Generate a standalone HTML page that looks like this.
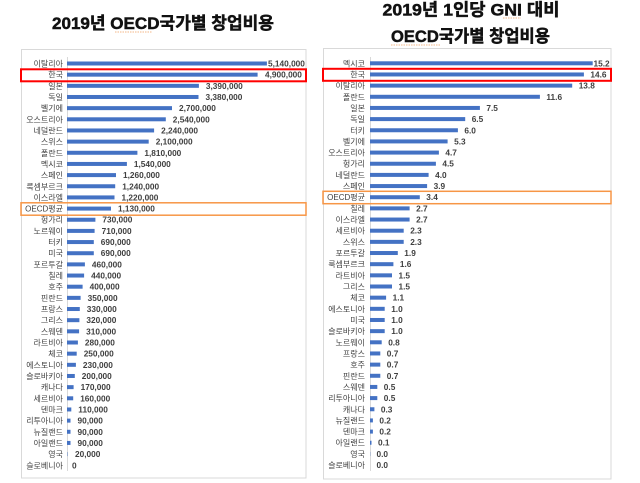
<!DOCTYPE html>
<html><head><meta charset="utf-8">
<style>
html,body{margin:0;padding:0;background:#fff;}
svg{display:block;}
.t{font-family:"Liberation Sans","Noto Sans CJK KR",sans-serif;font-weight:bold;fill:#111;stroke:#111;stroke-width:0.5;}
.l{font-family:"Liberation Sans","Noto Sans CJK KR",sans-serif;font-size:8px;fill:#404040;text-anchor:end;}
.v{font-family:"Liberation Sans",sans-serif;font-size:8.3px;font-weight:bold;fill:#404040;}
.b{fill:#4472C4;}
</style></head>
<body>
<svg width="640" height="483" viewBox="0 0 640 483" xmlns="http://www.w3.org/2000/svg">
<rect x="0" y="0" width="640" height="483" fill="#fff"/>
<!-- Titles -->
<text class="t" x="52" y="29" font-size="17" textLength="222" lengthAdjust="spacingAndGlyphs">2019년 OECD국가별 창업비용</text>
<line x1="115" y1="32" x2="152" y2="32" stroke="#f0a060" stroke-width="0.8" stroke-dasharray="1.5,1"/>
<text class="t" x="382.5" y="15.5" font-size="17" textLength="177" lengthAdjust="spacingAndGlyphs">2019년 1인당 GNI 대비</text>
<line x1="503" y1="18" x2="521" y2="18" stroke="#f0a060" stroke-width="0.8" stroke-dasharray="1.5,1"/>
<text class="t" x="391" y="42" font-size="17" textLength="159" lengthAdjust="spacingAndGlyphs">OECD국가별 창업비용</text>
<line x1="391" y1="45" x2="440" y2="45" stroke="#f0a060" stroke-width="0.8" stroke-dasharray="1.5,1"/>

<!-- Left chart frame -->
<rect x="21.5" y="49.5" width="284.5" height="428.5" fill="none" stroke="#d9d9d9" stroke-width="1"/>
<line x1="67.5" y1="57" x2="67.5" y2="471" stroke="#d9d9d9" stroke-width="1"/>

<g transform="translate(0,63.5)"><text class="l" x="63" y="3">이탈리아</text><rect class="b" x="67" y="-2" width="199.9" height="4"/><text class="v" x="268" y="3">5,140,000</text></g>
<g transform="translate(0,74.66)"><text class="l" x="63" y="3">한국</text><rect class="b" x="67" y="-2" width="190.6" height="4"/><text class="v" x="265" y="3">4,900,000</text></g>
<g transform="translate(0,85.82)"><text class="l" x="63" y="3">일본</text><rect class="b" x="67" y="-2" width="131.9" height="4"/><text class="v" x="205.9" y="3">3,390,000</text></g>
<g transform="translate(0,96.98)"><text class="l" x="63" y="3">독일</text><rect class="b" x="67" y="-2" width="131.5" height="4"/><text class="v" x="205.5" y="3">3,380,000</text></g>
<g transform="translate(0,108.14)"><text class="l" x="63" y="3">벨기에</text><rect class="b" x="67" y="-2" width="105" height="4"/><text class="v" x="179" y="3">2,700,000</text></g>
<g transform="translate(0,119.3)"><text class="l" x="63" y="3">오스트리아</text><rect class="b" x="67" y="-2" width="98.8" height="4"/><text class="v" x="172.8" y="3">2,540,000</text></g>
<g transform="translate(0,130.46)"><text class="l" x="63" y="3">네덜란드</text><rect class="b" x="67" y="-2" width="87.1" height="4"/><text class="v" x="161.1" y="3">2,240,000</text></g>
<g transform="translate(0,141.62)"><text class="l" x="63" y="3">스위스</text><rect class="b" x="67" y="-2" width="81.7" height="4"/><text class="v" x="155.7" y="3">2,100,000</text></g>
<g transform="translate(0,152.78)"><text class="l" x="63" y="3">폴란드</text><rect class="b" x="67" y="-2" width="70.4" height="4"/><text class="v" x="144.4" y="3">1,810,000</text></g>
<g transform="translate(0,163.94)"><text class="l" x="63" y="3">멕시코</text><rect class="b" x="67" y="-2" width="59.9" height="4"/><text class="v" x="133.9" y="3">1,540,000</text></g>
<g transform="translate(0,175.1)"><text class="l" x="63" y="3">스페인</text><rect class="b" x="67" y="-2" width="49" height="4"/><text class="v" x="123" y="3">1,260,000</text></g>
<g transform="translate(0,186.26)"><text class="l" x="63" y="3">룩셈부르크</text><rect class="b" x="67" y="-2" width="48.2" height="4"/><text class="v" x="122.2" y="3">1,240,000</text></g>
<g transform="translate(0,197.42)"><text class="l" x="63" y="3">이스라엘</text><rect class="b" x="67" y="-2" width="47.5" height="4"/><text class="v" x="121.5" y="3">1,220,000</text></g>
<g transform="translate(0,208.58)"><text class="l" x="63" y="3">OECD평균</text><rect class="b" x="67" y="-2" width="44" height="4"/><text class="v" x="118" y="3">1,130,000</text></g>
<g transform="translate(0,219.74)"><text class="l" x="63" y="3">헝가리</text><rect class="b" x="67" y="-2" width="28.4" height="4"/><text class="v" x="102.4" y="3">730,000</text></g>
<g transform="translate(0,230.9)"><text class="l" x="63" y="3">노르웨이</text><rect class="b" x="67" y="-2" width="27.6" height="4"/><text class="v" x="101.6" y="3">710,000</text></g>
<g transform="translate(0,242.06)"><text class="l" x="63" y="3">터키</text><rect class="b" x="67" y="-2" width="26.8" height="4"/><text class="v" x="100.8" y="3">690,000</text></g>
<g transform="translate(0,253.22)"><text class="l" x="63" y="3">미국</text><rect class="b" x="67" y="-2" width="26.8" height="4"/><text class="v" x="100.8" y="3">690,000</text></g>
<g transform="translate(0,264.38)"><text class="l" x="63" y="3">포르투갈</text><rect class="b" x="67" y="-2" width="17.9" height="4"/><text class="v" x="91.9" y="3">460,000</text></g>
<g transform="translate(0,275.54)"><text class="l" x="63" y="3">칠레</text><rect class="b" x="67" y="-2" width="17.1" height="4"/><text class="v" x="91.1" y="3">440,000</text></g>
<g transform="translate(0,286.7)"><text class="l" x="63" y="3">호주</text><rect class="b" x="67" y="-2" width="15.6" height="4"/><text class="v" x="89.6" y="3">400,000</text></g>
<g transform="translate(0,297.86)"><text class="l" x="63" y="3">핀란드</text><rect class="b" x="67" y="-2" width="13.6" height="4"/><text class="v" x="87.6" y="3">350,000</text></g>
<g transform="translate(0,309.02)"><text class="l" x="63" y="3">프랑스</text><rect class="b" x="67" y="-2" width="12.8" height="4"/><text class="v" x="86.8" y="3">330,000</text></g>
<g transform="translate(0,320.18)"><text class="l" x="63" y="3">그리스</text><rect class="b" x="67" y="-2" width="12.4" height="4"/><text class="v" x="86.4" y="3">320,000</text></g>
<g transform="translate(0,331.34)"><text class="l" x="63" y="3">스웨덴</text><rect class="b" x="67" y="-2" width="12.1" height="4"/><text class="v" x="86.1" y="3">310,000</text></g>
<g transform="translate(0,342.5)"><text class="l" x="63" y="3">라트비아</text><rect class="b" x="67" y="-2" width="10.9" height="4"/><text class="v" x="84.9" y="3">280,000</text></g>
<g transform="translate(0,353.66)"><text class="l" x="63" y="3">체코</text><rect class="b" x="67" y="-2" width="9.7" height="4"/><text class="v" x="83.7" y="3">250,000</text></g>
<g transform="translate(0,364.82)"><text class="l" x="63" y="3">에스토니아</text><rect class="b" x="67" y="-2" width="8.9" height="4"/><text class="v" x="82.9" y="3">230,000</text></g>
<g transform="translate(0,375.98)"><text class="l" x="63" y="3">슬로바키아</text><rect class="b" x="67" y="-2" width="7.8" height="4"/><text class="v" x="81.8" y="3">200,000</text></g>
<g transform="translate(0,387.14)"><text class="l" x="63" y="3">캐나다</text><rect class="b" x="67" y="-2" width="6.6" height="4"/><text class="v" x="80.6" y="3">170,000</text></g>
<g transform="translate(0,398.3)"><text class="l" x="63" y="3">세르비아</text><rect class="b" x="67" y="-2" width="6.2" height="4"/><text class="v" x="80.2" y="3">160,000</text></g>
<g transform="translate(0,409.46)"><text class="l" x="63" y="3">덴마크</text><rect class="b" x="67" y="-2" width="4.3" height="4"/><text class="v" x="78.3" y="3">110,000</text></g>
<g transform="translate(0,420.62)"><text class="l" x="63" y="3">리투아니아</text><rect class="b" x="67" y="-2" width="3.5" height="4"/><text class="v" x="77.5" y="3">90,000</text></g>
<g transform="translate(0,431.78)"><text class="l" x="63" y="3">뉴질랜드</text><rect class="b" x="67" y="-2" width="3.5" height="4"/><text class="v" x="77.5" y="3">90,000</text></g>
<g transform="translate(0,442.94)"><text class="l" x="63" y="3">아일랜드</text><rect class="b" x="67" y="-2" width="3.5" height="4"/><text class="v" x="77.5" y="3">90,000</text></g>
<g transform="translate(0,454.1)"><text class="l" x="63" y="3">영국</text><rect class="b" x="67" y="-2" width="0.8" height="4" opacity="0.5"/><text class="v" x="75" y="3">20,000</text></g>
<g transform="translate(0,465.26)"><text class="l" x="63" y="3">슬로베니아</text><text class="v" x="72" y="3">0</text></g>

<rect x="21" y="69.3" width="285" height="12" fill="none" stroke="#ff0000" stroke-width="2"/>
<rect x="21" y="202.8" width="285" height="12.4" fill="none" stroke="#F79646" stroke-width="1.5"/>

<!-- Right chart frame -->
<rect x="323.5" y="48.5" width="287.5" height="430.5" fill="none" stroke="#d9d9d9" stroke-width="1"/>
<line x1="370.5" y1="57" x2="370.5" y2="471" stroke="#d9d9d9" stroke-width="1"/>

<g transform="translate(0,63.3)"><text class="l" x="365" y="3">멕시코</text><rect class="b" x="370" y="-2" width="222.7" height="4"/><text class="v" x="593.5" y="3">15.2</text></g>
<g transform="translate(0,74.46)"><text class="l" x="365" y="3">한국</text><rect class="b" x="370" y="-2" width="213.9" height="4"/><text class="v" x="590.4" y="3">14.6</text></g>
<g transform="translate(0,85.62)"><text class="l" x="365" y="3">이탈리아</text><rect class="b" x="370" y="-2" width="202.2" height="4"/><text class="v" x="578.7" y="3">13.8</text></g>
<g transform="translate(0,96.78)"><text class="l" x="365" y="3">폴란드</text><rect class="b" x="370" y="-2" width="169.9" height="4"/><text class="v" x="546.4" y="3">11.6</text></g>
<g transform="translate(0,107.94)"><text class="l" x="365" y="3">일본</text><rect class="b" x="370" y="-2" width="109.9" height="4"/><text class="v" x="486.4" y="3">7.5</text></g>
<g transform="translate(0,119.1)"><text class="l" x="365" y="3">독일</text><rect class="b" x="370" y="-2" width="95.2" height="4"/><text class="v" x="471.7" y="3">6.5</text></g>
<g transform="translate(0,130.26)"><text class="l" x="365" y="3">터키</text><rect class="b" x="370" y="-2" width="87.9" height="4"/><text class="v" x="464.4" y="3">6.0</text></g>
<g transform="translate(0,141.42)"><text class="l" x="365" y="3">벨기에</text><rect class="b" x="370" y="-2" width="77.6" height="4"/><text class="v" x="454.1" y="3">5.3</text></g>
<g transform="translate(0,152.58)"><text class="l" x="365" y="3">오스트리아</text><rect class="b" x="370" y="-2" width="68.9" height="4"/><text class="v" x="445.4" y="3">4.7</text></g>
<g transform="translate(0,163.74)"><text class="l" x="365" y="3">헝가리</text><rect class="b" x="370" y="-2" width="65.9" height="4"/><text class="v" x="442.4" y="3">4.5</text></g>
<g transform="translate(0,174.9)"><text class="l" x="365" y="3">네덜란드</text><rect class="b" x="370" y="-2" width="58.6" height="4"/><text class="v" x="435.1" y="3">4.0</text></g>
<g transform="translate(0,186.06)"><text class="l" x="365" y="3">스페인</text><rect class="b" x="370" y="-2" width="57.1" height="4"/><text class="v" x="433.6" y="3">3.9</text></g>
<g transform="translate(0,197.22)"><text class="l" x="365" y="3">OECD평균</text><rect class="b" x="370" y="-2" width="49.8" height="4"/><text class="v" x="426.3" y="3">3.4</text></g>
<g transform="translate(0,208.38)"><text class="l" x="365" y="3">칠레</text><rect class="b" x="370" y="-2" width="39.6" height="4"/><text class="v" x="416.1" y="3">2.7</text></g>
<g transform="translate(0,219.54)"><text class="l" x="365" y="3">이스라엘</text><rect class="b" x="370" y="-2" width="39.6" height="4"/><text class="v" x="416.1" y="3">2.7</text></g>
<g transform="translate(0,230.7)"><text class="l" x="365" y="3">세르비아</text><rect class="b" x="370" y="-2" width="33.7" height="4"/><text class="v" x="410.2" y="3">2.3</text></g>
<g transform="translate(0,241.86)"><text class="l" x="365" y="3">스위스</text><rect class="b" x="370" y="-2" width="33.7" height="4"/><text class="v" x="410.2" y="3">2.3</text></g>
<g transform="translate(0,253.02)"><text class="l" x="365" y="3">포르투갈</text><rect class="b" x="370" y="-2" width="27.8" height="4"/><text class="v" x="404.3" y="3">1.9</text></g>
<g transform="translate(0,264.18)"><text class="l" x="365" y="3">룩셈부르크</text><rect class="b" x="370" y="-2" width="23.4" height="4"/><text class="v" x="399.9" y="3">1.6</text></g>
<g transform="translate(0,275.34)"><text class="l" x="365" y="3">라트비아</text><rect class="b" x="370" y="-2" width="22" height="4"/><text class="v" x="398.5" y="3">1.5</text></g>
<g transform="translate(0,286.5)"><text class="l" x="365" y="3">그리스</text><rect class="b" x="370" y="-2" width="22" height="4"/><text class="v" x="398.5" y="3">1.5</text></g>
<g transform="translate(0,297.66)"><text class="l" x="365" y="3">체코</text><rect class="b" x="370" y="-2" width="16.1" height="4"/><text class="v" x="392.6" y="3">1.1</text></g>
<g transform="translate(0,308.82)"><text class="l" x="365" y="3">에스토니아</text><rect class="b" x="370" y="-2" width="14.7" height="4"/><text class="v" x="391.2" y="3">1.0</text></g>
<g transform="translate(0,319.98)"><text class="l" x="365" y="3">미국</text><rect class="b" x="370" y="-2" width="14.7" height="4"/><text class="v" x="391.2" y="3">1.0</text></g>
<g transform="translate(0,331.14)"><text class="l" x="365" y="3">슬로바키아</text><rect class="b" x="370" y="-2" width="14.7" height="4"/><text class="v" x="391.2" y="3">1.0</text></g>
<g transform="translate(0,342.3)"><text class="l" x="365" y="3">노르웨이</text><rect class="b" x="370" y="-2" width="11.7" height="4"/><text class="v" x="388.2" y="3">0.8</text></g>
<g transform="translate(0,353.46)"><text class="l" x="365" y="3">프랑스</text><rect class="b" x="370" y="-2" width="10.3" height="4"/><text class="v" x="386.8" y="3">0.7</text></g>
<g transform="translate(0,364.62)"><text class="l" x="365" y="3">호주</text><rect class="b" x="370" y="-2" width="10.3" height="4"/><text class="v" x="386.8" y="3">0.7</text></g>
<g transform="translate(0,375.78)"><text class="l" x="365" y="3">핀란드</text><rect class="b" x="370" y="-2" width="10.3" height="4"/><text class="v" x="386.8" y="3">0.7</text></g>
<g transform="translate(0,386.94)"><text class="l" x="365" y="3">스웨덴</text><rect class="b" x="370" y="-2" width="7.3" height="4"/><text class="v" x="383.8" y="3">0.5</text></g>
<g transform="translate(0,398.1)"><text class="l" x="365" y="3">리투아니아</text><rect class="b" x="370" y="-2" width="7.3" height="4"/><text class="v" x="383.8" y="3">0.5</text></g>
<g transform="translate(0,409.26)"><text class="l" x="365" y="3">캐나다</text><rect class="b" x="370" y="-2" width="4.4" height="4"/><text class="v" x="380.9" y="3">0.3</text></g>
<g transform="translate(0,420.42)"><text class="l" x="365" y="3">뉴질랜드</text><rect class="b" x="370" y="-2" width="2.9" height="4"/><text class="v" x="379.4" y="3">0.2</text></g>
<g transform="translate(0,431.58)"><text class="l" x="365" y="3">덴마크</text><rect class="b" x="370" y="-2" width="2.9" height="4"/><text class="v" x="379.4" y="3">0.2</text></g>
<g transform="translate(0,442.74)"><text class="l" x="365" y="3">아일랜드</text><rect class="b" x="370" y="-2" width="1.5" height="4"/><text class="v" x="378" y="3">0.1</text></g>
<g transform="translate(0,453.9)"><text class="l" x="365" y="3">영국</text><rect class="b" x="370" y="-2" width="0.6" height="4" opacity="0.4"/><text class="v" x="376.5" y="3">0.0</text></g>
<g transform="translate(0,465.06)"><text class="l" x="365" y="3">슬로베니아</text><text class="v" x="376.5" y="3">0.0</text></g>

<rect x="323" y="68.8" width="288" height="12" fill="none" stroke="#ff0000" stroke-width="2"/>
<rect x="323" y="191.3" width="288" height="12.4" fill="none" stroke="#F79646" stroke-width="1.5"/>
</svg>
</body></html>
